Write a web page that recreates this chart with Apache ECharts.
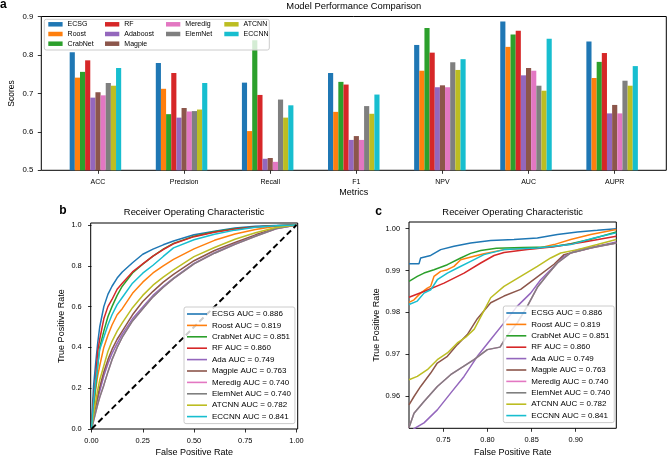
<!DOCTYPE html>
<html><head><meta charset="utf-8">
<script src="https://cdn.jsdelivr.net/npm/echarts@6/dist/echarts.min.js"></script>
<style>html,body{margin:0;padding:0;background:#fff}#c{width:667px;height:457px}</style>
</head><body><div id="c"></div>
<script>
// ---------- Panel a data ----------
const categories = ['ACC','Precision','Recall','F1','NPV','AUC','AUPR'];
const barModels = ['ECSG','Roost','CrabNet','RF','Adaboost','Magpie','Meredig','ElemNet','ATCNN','ECCNN'];
const colors = ['#1f77b4','#ff7f0e','#2ca02c','#d62728','#9467bd','#8c564b','#e377c2','#7f7f7f','#bcbd22','#17becf'];
const scoreECSG     = [0.807,0.779,0.728,0.753,0.826,0.887,0.835];
const scoreRoost    = [0.741,0.712,0.602,0.652,0.759,0.821,0.740];
const scoreCrabNet  = [0.756,0.646,0.838,0.730,0.870,0.853,0.782];
const scoreRF       = [0.786,0.753,0.696,0.723,0.806,0.863,0.805];
const scoreAdaboost = [0.689,0.637,0.530,0.579,0.716,0.747,0.648];
const scoreMagpie   = [0.703,0.662,0.532,0.589,0.721,0.766,0.670];
const scoreMeredig  = [0.695,0.653,0.522,0.579,0.716,0.759,0.648];
const scoreElemNet  = [0.727,0.654,0.684,0.667,0.781,0.720,0.733];
const scoreATCNN    = [0.720,0.658,0.637,0.647,0.761,0.707,0.720];
const scoreECCNN    = [0.766,0.727,0.669,0.697,0.789,0.842,0.771];
const barYTicks = [0.5,0.6,0.7,0.8,0.9];

// ---------- Panel b data (ROC) ----------
const rocNames = ['ECSG AUC = 0.886','Roost AUC = 0.819','CrabNet AUC = 0.851','RF AUC = 0.860','Ada AUC = 0.749',
  'Magpie AUC = 0.763','Meredig AUC = 0.740','ElemNet AUC = 0.740','ATCNN AUC = 0.782','ECCNN AUC = 0.841'];
const rocFpr      = [0,.005,.01,.02,.03,.04,.06,.08,.1,.125,.15,.2,.25,.3,.35,.4,.5,.6,.7,.8,.9,1];
const tprECSG     = [0,.12,.21,.32,.42,.50,.60,.66,.70,.74,.77,.815,.857,.882,.903,.922,.952,.97,.985,.994,.998,1];
const tprRoost    = [0,.05,.09,.19,.26,.31,.40,.46,.51,.56,.59,.665,.72,.765,.80,.832,.883,.925,.956,.978,.994,1];
const tprCrabNet  = [0,.07,.12,.21,.31,.40,.48,.55,.60,.655,.70,.765,.808,.848,.882,.91,.945,.967,.982,.991,.997,1];
const tprRF       = [0,.09,.15,.25,.38,.44,.54,.60,.635,.685,.715,.77,.81,.848,.88,.908,.943,.965,.98,.99,.997,1];
const tprAda      = [0,.025,.05,.10,.145,.185,.26,.32,.37,.42,.465,.54,.598,.655,.70,.74,.812,.865,.908,.948,.983,1];
const tprMagpie   = [0,.03,.06,.11,.16,.205,.28,.34,.39,.44,.48,.56,.625,.675,.72,.758,.825,.875,.915,.952,.985,1];
const tprElemNet  = [0,.02,.04,.08,.12,.155,.215,.28,.34,.40,.45,.53,.59,.648,.695,.737,.81,.862,.905,.945,.982,1];
const tprMeredig  = tprElemNet;
const tprATCNN    = [0,.04,.07,.13,.19,.24,.31,.38,.43,.48,.52,.595,.655,.705,.745,.78,.845,.89,.93,.962,.988,1];
const tprECCNN    = [0,.07,.13,.23,.31,.39,.45,.51,.56,.61,.645,.715,.764,.803,.846,.888,.928,.955,.975,.989,.997,1];
const diagLine    = [[0,0],[1,1]];
const rocTicksX = [0,0.25,0.5,0.75,1];
const rocTicksY = [0,0.2,0.4,0.6,0.8,1];

// ---------- Panel c data (zoomed ROC) ----------
const zoomECSG = [[.711,.9916],[.7223,.9916],[.7242,.9930],[.7356,.9936],[.7469,.9950],[.762,.9958],[.7809,.9966],[.8036,.9972],[.83,.9974],[.8565,.9978],[.8792,.9986],[.9019,.9992],[.9245,.9996],[.946,1.0]];
const zoomRoost = [[.711,.9824],[.7167,.983],[.7242,.9846],[.7318,.9858],[.7355,.9862],[.7393,.9886],[.7469,.9898],[.7545,.9902],[.762,.991],[.7696,.9926],[.7771,.993],[.7847,.9934],[.796,.994],[.8187,.995],[.8565,.9953],[.8754,.9962],[.8943,.9974],[.917,.9986],[.946,.9998]];
const zoomCrabNet = [[.711,.9874],[.7204,.9886],[.728,.9894],[.7393,.9902],[.7545,.9914],[.7696,.993],[.7809,.9941],[.7923,.9948],[.81,.9953],[.84,.9955],[.8716,.9956],[.8943,.9964],[.917,.9975],[.946,.9992]];
const zoomRF = [[.711,.9836],[.728,.985],[.7507,.987],[.7734,.9894],[.7923,.9918],[.8074,.9936],[.8187,.9943],[.8452,.995],[.8754,.9957],[.9094,.9968],[.946,.9982]];
const zoomAda = [[.711,.9505],[.7167,.9522],[.728,.9536],[.7431,.9567],[.7582,.9607],[.7734,.9647],[.7885,.9695],[.8036,.9735],[.8187,.9775],[.8338,.9815],[.8489,.9846],[.8603,.9878],[.8716,.9902],[.8867,.9934],[.9019,.995],[.9245,.9958],[.946,.9968]];
const zoomMagpie = [[.711,.9579],[.7167,.9599],[.7242,.9623],[.7356,.9655],[.7431,.9679],[.7545,.9695],[.7658,.9723],[.7771,.9747],[.7885,.9785],[.8036,.9823],[.8187,.9839],[.8376,.9855],[.8565,.9885],[.8754,.9915],[.8867,.9938],[.9019,.9946],[.9245,.9958],[.946,.9966]];
const zoomElemNet = [[.711,.9525],[.7167,.9559],[.728,.9587],[.7431,.9623],[.7582,.9651],[.7847,.9687],[.7998,.9711],[.8142,.9717],[.8225,.9745],[.8338,.9775],[.8452,.9815],[.8565,.986],[.8678,.989],[.8792,.9918],[.8943,.9942],[.917,.9954],[.946,.9966]];
const zoomMeredig = zoomElemNet;
const zoomATCNN = [[.711,.9639],[.7204,.9647],[.7318,.9663],[.7431,.9687],[.7545,.9703],[.7658,.9727],[.775,.974],[.785,.976],[.795,.98],[.8036,.9835],[.8187,.9862],[.8376,.9886],[.8565,.991],[.8716,.993],[.883,.9942],[.9019,.995],[.9245,.9962],[.946,.9974]];
const zoomECCNN = [[.711,.9819],[.7204,.9827],[.728,.9846],[.7356,.9854],[.7431,.9878],[.7545,.9894],[.7658,.9906],[.7809,.9922],[.796,.9938],[.8187,.995],[.8565,.9954],[.8943,.9962],[.9207,.9978],[.946,.999]];
const zoomTicksX = [0.75,0.8,0.85,0.9];
const zoomTicksY = [0.96,0.97,0.98,0.99,1.0];

// ---------- build ----------
const FONT = '"Liberation Sans", Arial, Helvetica, sans-serif';
const scoreSeries = [scoreECSG,scoreRoost,scoreCrabNet,scoreRF,scoreAdaboost,scoreMagpie,scoreMeredig,scoreElemNet,scoreATCNN,scoreECCNN];
const tprSeries = [tprECSG,tprRoost,tprCrabNet,tprRF,tprAda,tprMagpie,tprMeredig,tprElemNet,tprATCNN,tprECCNN];
const zoomSeries = [zoomECSG,zoomRoost,zoomCrabNet,zoomRF,zoomAda,zoomMagpie,zoomMeredig,zoomElemNet,zoomATCNN,zoomECCNN];

const chart = echarts.init(document.getElementById('c'), null, {renderer:'canvas', width:667, height:457});

const tickStyle = {show:true, length:3.5, lineStyle:{color:'#000', width:0.8}};
const labelA = {color:'#000', fontSize:7, fontFamily:FONT};
const labelAY = {color:'#000', fontSize:7.8, fontFamily:FONT};
const labelR = {color:'#000', fontSize:7.4, fontFamily:FONT};

const series = [];
barModels.forEach((m,i)=>{
  series.push({type:'bar', name:m, xAxisIndex:1, yAxisIndex:1, data:scoreSeries[i], barWidth:5.15, barGap:'0%',
    clip:true, color:colors[i], itemStyle:{color:colors[i]}, silent:true});
});
// empty slot so that the tick sits on the 6th bar, as in the source figure
series.push({type:'bar', name:'pad', xAxisIndex:1, yAxisIndex:1, data:categories.map(()=>null), barWidth:5.15, barGap:'0%'});

rocNames.forEach((n,i)=>{
  series.push({type:'line', name:n, xAxisIndex:2, yAxisIndex:2, data:rocFpr.map((f,k)=>[f,tprSeries[i][k]]),
    showSymbol:false, symbol:'none', color:colors[i], lineStyle:{width:1.5, color:colors[i]}, silent:true, clip:true});
});
series.push({type:'line', name:'chance', xAxisIndex:2, yAxisIndex:2, data:diagLine, showSymbol:false, symbol:'none',
  lineStyle:{width:2, color:'#000', type:[6,3.5]}, silent:true});
rocNames.forEach((n,i)=>{
  series.push({type:'line', name:n, xAxisIndex:3, yAxisIndex:3, data:zoomSeries[i],
    showSymbol:false, symbol:'none', color:colors[i], lineStyle:{width:1.5, color:colors[i]}, silent:true, clip:true});
});

const legendCols = [['ECSG','Roost','CrabNet'],['RF','Adaboost','Magpie'],['Meredig','ElemNet'],['ATCNN','ECCNN']];
const legendLefts = [48.3,105,166,224.3];
const legends = legendCols.map((d,j)=>({data:d, orient:'vertical', left:legendLefts[j], top:20.3, padding:0,
  itemWidth:14.3, itemHeight:4.5, itemGap:1.7, icon:'rect', selectedMode:false,
  textStyle:{color:'#000', fontSize:7, lineHeight:8, fontFamily:FONT}}));
const rocLegend = (left, top)=>({data:rocNames, orient:'vertical', left:left, top:top, padding:[2,4,2,3],
  itemWidth:20, itemHeight:1.6, itemGap:1.4, icon:'rect', selectedMode:false,
  backgroundColor:'rgba(255,255,255,0.8)', borderColor:'#cccccc', borderWidth:1, borderRadius:2,
  textStyle:{color:'#000', fontSize:8, lineHeight:10, fontFamily:FONT}});
legends.push(rocLegend(184,307));
legends.push(rocLegend(503.3,306));

function txt(t, x, y, size, opts){
  opts = opts || {};
  return {type:'text', x:x, y:y, rotation:opts.rot||0, z:10, silent:true,
    style:{text:t, fill:'#000', font:(opts.bold?'bold ':'')+size+'px '+FONT,
      textAlign:opts.align||'center', textVerticalAlign:'middle', align:opts.align||'center', verticalAlign:'middle'}};
}

const option = {
  animation:false,
  backgroundColor:'#fff',
  grid:[
    {left:41.3, top:16.5, width:625, height:153.8, show:true, borderColor:'#000', borderWidth:1, backgroundColor:'transparent'},
    {left:54.95, top:16.5, width:602.8, height:153.8},
    {left:90.7, top:223, width:207, height:206, show:true, borderColor:'#000', borderWidth:1, backgroundColor:'transparent'},
    {left:409, top:222, width:207.3, height:206.3, show:true, borderColor:'#000', borderWidth:1, backgroundColor:'transparent'}
  ],
  xAxis:[
    {gridIndex:0, type:'value', show:false, min:0, max:1},
    {gridIndex:1, type:'category', data:categories, axisLine:{show:false},
      axisTick:Object.assign({alignWithLabel:true}, tickStyle), axisLabel:Object.assign({margin:8.5}, labelA)},
    {gridIndex:2, type:'value', min:-0.004, max:1.006, axisLine:{show:false}, splitLine:{show:false},
      axisTick:Object.assign({customValues:rocTicksX}, tickStyle),
      axisLabel:Object.assign({margin:8, customValues:rocTicksX, formatter:v=>v.toFixed(2)}, labelR)},
    {gridIndex:3, type:'value', min:0.711, max:0.946, axisLine:{show:false}, splitLine:{show:false},
      axisTick:Object.assign({customValues:zoomTicksX}, tickStyle),
      axisLabel:Object.assign({margin:8, customValues:zoomTicksX, formatter:v=>v.toFixed(2)}, labelR)}
  ],
  yAxis:[
    {gridIndex:0, type:'value', show:false, min:0, max:1},
    {gridIndex:1, type:'value', min:barYTicks[0], max:barYTicks[barYTicks.length-1], interval:0.1, offset:13.65,
      axisLine:{show:false}, splitLine:{show:false}, axisTick:tickStyle,
      axisLabel:Object.assign({margin:8, formatter:v=>v.toFixed(1)}, labelAY)},
    {gridIndex:2, type:'value', min:0, max:1.01, axisLine:{show:false}, splitLine:{show:false},
      axisTick:Object.assign({customValues:rocTicksY}, tickStyle),
      axisLabel:Object.assign({margin:9, customValues:rocTicksY, formatter:v=>v.toFixed(1)}, labelR)},
    {gridIndex:3, type:'value', min:0.9523, max:1.0016, axisLine:{show:false}, splitLine:{show:false},
      axisTick:Object.assign({customValues:zoomTicksY}, tickStyle),
      axisLabel:Object.assign({margin:9, customValues:zoomTicksY, formatter:v=>v.toFixed(2)}, labelR)}
  ],
  legend:legends,
  graphic:[
    {type:'rect', shape:{x:44.3, y:19.3, width:225, height:30.7, r:2}, z:3, silent:true,
      style:{fill:'rgba(255,255,255,0.8)', stroke:'#cccccc', lineWidth:1}},
    txt('a', 0, 5, 12, {bold:true, align:'left'}),
    txt('Model Performance Comparison', 353.8, 6.5, 9.4),
    txt('Scores', 12, 93.4, 8.5, {rot:Math.PI/2}),
    txt('Metrics', 353.8, 193, 9),
    txt('b', 63, 211, 12, {bold:true}),
    txt('Receiver Operating Characteristic', 194.2, 212.3, 9.4),
    txt('True Positive Rate', 61.7, 326.2, 9, {rot:Math.PI/2}),
    txt('False Positive Rate', 194.2, 452.7, 9),
    txt('c', 378.5, 211.5, 12, {bold:true}),
    txt('Receiver Operating Characteristic', 512.7, 212.3, 9.4),
    txt('True Positive Rate', 377, 325, 9, {rot:Math.PI/2}),
    txt('False Positive Rate', 512.7, 452.7, 9)
  ],
  series:series
};
chart.setOption(option);
</script>
</body></html>
